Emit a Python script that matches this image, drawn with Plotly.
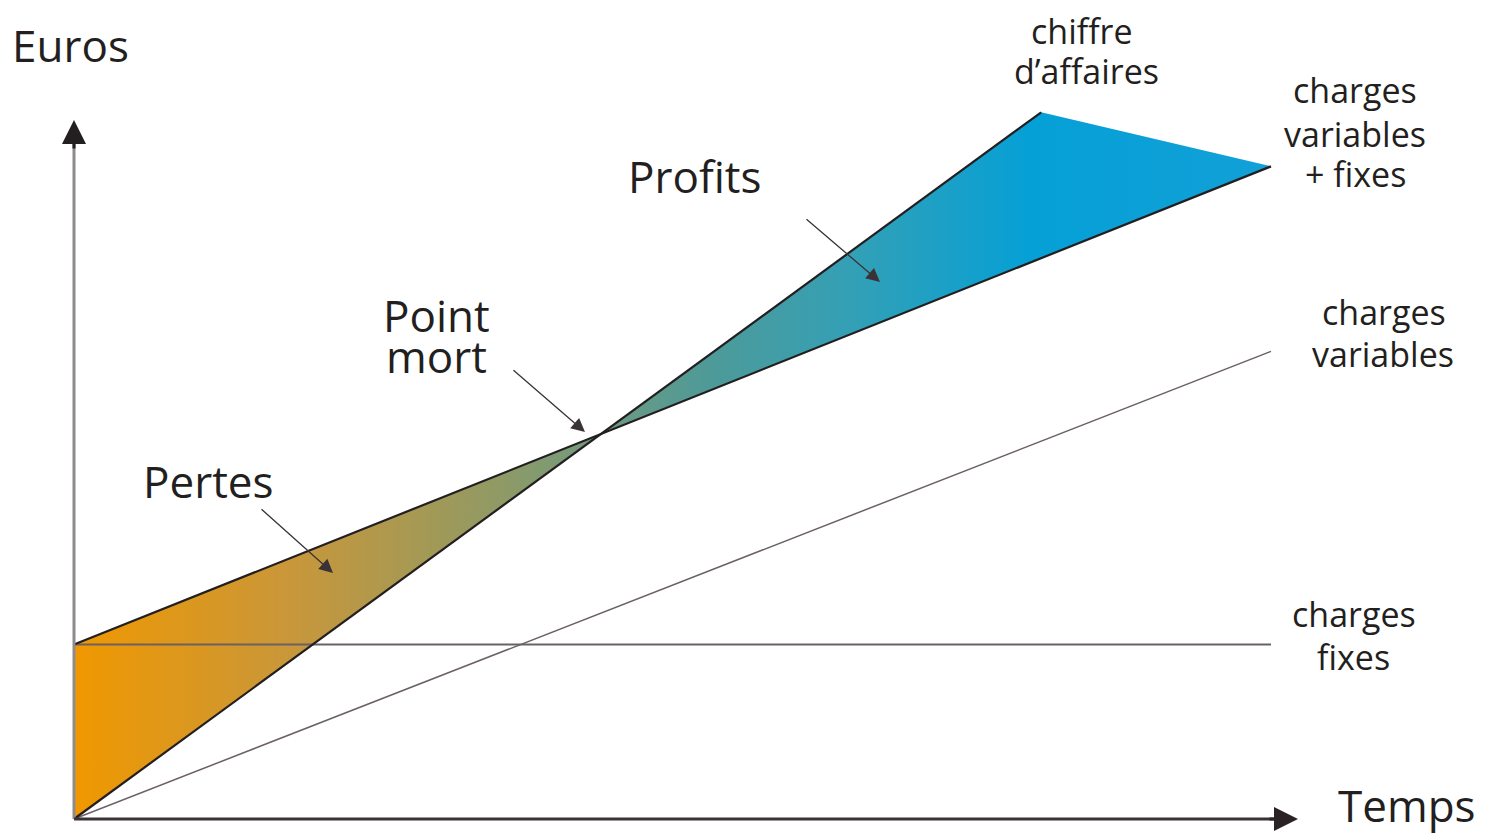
import plotly.graph_objects as go

# ---------------- data ----------------
temps = [0, 10]                       # time axis (arbitrary units)
charges_fixes = [100, 100]            # fixed charges
charges_variables = [0, 268]          # variable charges
charges_totales = [100, 374]          # variable + fixed charges
temps_ca = [0, 8.08]                  # time span of the revenue line
chiffre_affaires = [0, 405]           # revenue (chiffre d'affaires)

# break-even point: intersection of revenue and total charges lines
s_ca = (chiffre_affaires[1] - chiffre_affaires[0]) / (temps_ca[1] - temps_ca[0])
s_ct = (charges_totales[1] - charges_totales[0]) / (temps[1] - temps[0])
x_pm = (charges_totales[0] - chiffre_affaires[0]) / (s_ca - s_ct)
y_pm = chiffre_affaires[0] + s_ca * x_pm

# ---------------- layout geometry ----------------
W, H = 1487, 834
X0_PX, Y0_PX = 74, 819          # pixel of data origin
PX_X, PX_Y = 119.7, 1.745        # pixels per data unit
x_range = [-X0_PX / PX_X, (W - X0_PX) / PX_X]
y_range = [-(H - Y0_PX) / PX_Y, Y0_PX / PX_Y]

INK = "#231f20"
FONT = "Open Sans"

gradient = dict(
    type="horizontal", start=temps[0], stop=temps[1],
    colorscale=[
        [0.00, "#F09800"],
        [0.18, "#C9973A"],
        [0.36, "#8E9A66"],
        [0.44, "#6F9A80"],
        [0.53, "#4E9A98"],
        [0.65, "#33A0B6"],
        [0.80, "#05A0D6"],
        [1.00, "#12A0D8"],
    ],
)

fig = go.Figure()

# Losses area (Pertes)
fig.add_trace(go.Scatter(
    x=[temps[0], x_pm, temps[0]],
    y=[charges_totales[0], y_pm, chiffre_affaires[0]],
    fill="toself", fillgradient=gradient, mode="none",
    hoverinfo="skip", showlegend=False,
))
# Profits area
fig.add_trace(go.Scatter(
    x=[x_pm, temps_ca[1], temps[1]],
    y=[y_pm, chiffre_affaires[1], charges_totales[1]],
    fill="toself", fillgradient=gradient, mode="none",
    hoverinfo="skip", showlegend=False,
))

# lines
fig.add_trace(go.Scatter(x=temps, y=charges_fixes, mode="lines",
                         line=dict(color="#6b6163", width=2.2),
                         hoverinfo="skip", showlegend=False))
fig.add_trace(go.Scatter(x=temps, y=charges_variables, mode="lines",
                         line=dict(color="#6b6163", width=1.5),
                         hoverinfo="skip", showlegend=False))
fig.add_trace(go.Scatter(x=temps, y=charges_totales, mode="lines",
                         line=dict(color=INK, width=2.2),
                         hoverinfo="skip", showlegend=False))
fig.add_trace(go.Scatter(x=temps_ca, y=chiffre_affaires, mode="lines",
                         line=dict(color=INK, width=2.2),
                         hoverinfo="skip", showlegend=False))

# axes lines with arrows
x_tip = (1298 - X0_PX) / PX_X
y_tip = (Y0_PX - 120) / PX_Y
shapes = [
    dict(type="line", xref="x", yref="y", x0=0, y0=0, x1=0, y1=y_tip - 10,
         line=dict(color="#8f8a8b", width=3)),
    dict(type="line", xref="x", yref="y", x0=0, y0=0, x1=x_tip - 0.1, y1=0,
         line=dict(color="#3a3234", width=3)),
]

annotations = []
# axis arrowheads
annotations.append(dict(x=0, y=y_tip, xref="x", yref="y", ax=0, ay=30,
                        showarrow=True, arrowhead=2, arrowsize=1.6,
                        arrowwidth=3, arrowcolor=INK, text="", standoff=0))
annotations.append(dict(x=x_tip, y=0, xref="x", yref="y", ax=-30, ay=0,
                        showarrow=True, arrowhead=2, arrowsize=1.6,
                        arrowwidth=3, arrowcolor="#2a2224", text="", standoff=0))

# pointer arrows (tail pixel -> tip pixel)
pointers = [
    ((260, 508), (333, 573)),   # Pertes
    ((512, 369), (585, 432)),   # Point mort
    ((805, 218), (880, 282)),   # Profits
]
def px2x(px):
    return (px - X0_PX) / PX_X
def py2y(py):
    return (Y0_PX - py) / PX_Y
for (tx, ty), (hx, hy) in pointers:
    annotations.append(dict(
        x=px2x(hx), y=py2y(hy), ax=px2x(tx), ay=py2y(ty),
        xref="x", yref="y", axref="x", ayref="y",
        showarrow=True, arrowhead=2, arrowsize=2.1, arrowwidth=1.3,
        arrowcolor="#3a3234", text="", standoff=0))

# text labels: (text, center px x, center px y, size)
big, small = 44, 34
labels = [
    ("Euros", 70, 45, big),
    ("Temps", 1407, 805, big),
    ("Profits", 694, 176, big),
    ("Point", 436, 315, big),
    ("mort", 436, 356, big),
    ("Pertes", 208, 481, big),
    ("chiffre", 1082, 31, small),
    ("d\u2019affaires", 1086, 71, small),
    ("charges", 1355, 90, small),
    ("variables", 1355, 134, small),
    ("+ fixes", 1355, 174, small),
    ("charges", 1384, 312, small),
    ("variables", 1383, 354, small),
    ("charges", 1354, 614, small),
    ("fixes", 1353, 657, small),
]
for txt, cx, cy, sz in labels:
    annotations.append(dict(
        text=txt, x=cx / W, y=1 - cy / H, xref="paper", yref="paper",
        xanchor="center", yanchor="middle", showarrow=False,
        font=dict(family=FONT, size=sz, color=INK)))

fig.update_layout(
    width=W, height=H,
    margin=dict(l=0, r=0, t=0, b=0),
    paper_bgcolor="white", plot_bgcolor="white",
    xaxis=dict(range=x_range, visible=False, fixedrange=True),
    yaxis=dict(range=y_range, visible=False, fixedrange=True),
    shapes=shapes, annotations=annotations,
    showlegend=False,
)

fig.write_html(
    "out.html",
    config={"displayModeBar": False},
    post_script="document.body.style.margin='0';document.body.style.overflow='hidden';",
)
